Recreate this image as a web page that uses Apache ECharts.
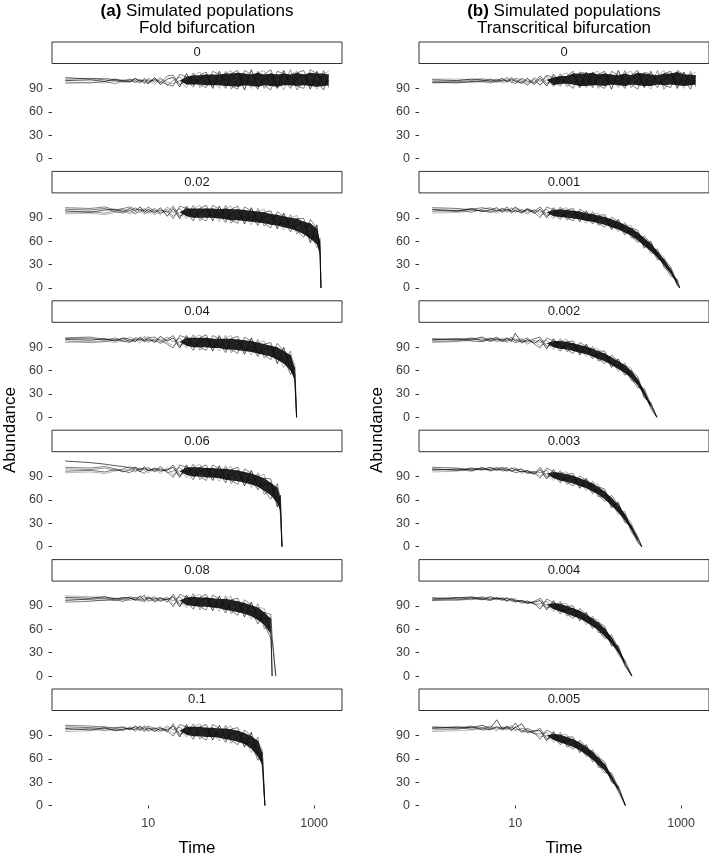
<!DOCTYPE html>
<html>
<head>
<meta charset="utf-8">
<script src="https://cdn.jsdelivr.net/npm/echarts@6/dist/echarts.min.js"></script>
<style>
  html, body { margin: 0; padding: 0; background: #fff; }
  #chart { width: 709px; height: 858px; }
</style>
</head>
<body>
<div id="chart"></div>
<script>
// time steps shared by all panels (each panel stops at its own collapse)
const TIME = [1, 2, 3, 4, 5, 6, 7, 8, 9, 10, 12, 14, 17, 20, 24, 29, 35, 42, 50, 60,
  72, 86, 100, 120, 145, 175, 210, 250, 300, 360, 430, 520, 620, 750, 900, 1080, 1300, 1500];
const X_TICKS = [10, 1000];
const Y_TICKS = [0, 30, 60, 90];

const foldLabels = ['0', '0.02', '0.04', '0.06', '0.08', '0.1'];
const transLabels = ['0', '0.001', '0.002', '0.003', '0.004', '0.005'];
// how many TIME steps each panel keeps, then the last steps before extinction
const foldCut = [38, 36, 32, 30, 29, 27];
const foldTail = [[], [1180, 1208], [585, 615], [392, 410], [312, 345], [238, 255]];
const transCut = [38, 35, 31, 29, 27, 26];
const transTail = [[], [960], [510], [335], [255], [213]];

// (a) fold bifurcation, 5 simulated runs per panel
const fold0 = [
  [100,101,99,102,100,98,103,99,101,97,104,95,102, 104,92,109,95,101,108,90,112,93,101,110,88,114,92,100,109,90,113,94,102,108,89,112,93,100],
  [98,97,99,96,100,102,97,101,96,103,98,104,94, 100,105,95,110,91,101,108,94,112,89,100,109,93,112,90,102,108,94,114,88,100,110,92,113,91],
  [102,103,101,100,98,99,100,97,103,99,101,97,106, 107,95,100,92,107,111,94,101,90,109,113,94,100,89,108,114,92,102,90,110,113,93,100,88,108],
  [96,98,97,99,101,100,98,102,99,101,95,102,98, 96,100,91,107,111,94,101,90,109,113,92,102,90,110,113,93,100,88,108,112,94,101,89,109,112],
  [104,102,103,101,99,101,102,100,98,96,102,99,95, 93,108,105,101,95,91,112,108,101,93,89,113,108,102,94,88,112,109,100,93,90,114,109,101,94]
];
const fold002 = [
  [99,97,100,101,98,102,99,104,97,101,96,103,92, 102,89,105,90,96,102,86,105,88,94,101,82,103,84,90,95,76,96,76,81,85,58,81,44,0],
  [97,98,96,99,101,97,103,98,102,96,100,94,104, 97,102,92,106,86,96,102,89,106,83,94,100,85,102,79,88,94,78,94,69,77,83,56,64,0],
  [101,100,102,98,96,100,95,101,99,104,98,100,97, 105,92,97,86,102,106,90,95,84,101,105,86,92,80,97,99,80,85,72,89,89,63,66,40,0],
  [95,96,94,97,99,95,98,96,101,99,94,98,101, 92,97,89,102,106,90,96,85,102,105,87,93,81,98,101,81,87,74,90,93,69,73,51,60,0],
  [103,102,104,100,102,104,101,100,95,98,102,96,99, 89,105,102,96,90,86,106,101,95,87,83,104,99,91,83,77,98,92,83,73,65,88,76,52,0]
];
const fold004 = [
  [100,99,101,98,102,100,97,103,99,101,96,104,98, 102,89,105,90,96,102,85,105,87,94,100,81,102,82,87,92,69,90,60,56,0],
  [98,96,97,100,97,99,101,98,104,96,101,97,103, 97,102,92,106,86,96,101,89,105,83,93,99,84,100,76,85,90,69,85,44,0],
  [102,103,100,99,101,97,99,100,97,99,99,95,100, 105,92,97,86,102,106,89,95,83,101,104,85,91,78,94,96,74,77,55,64,0],
  [96,97,98,96,99,103,100,95,101,104,97,101,96, 92,97,89,102,106,90,95,85,101,105,86,92,80,96,98,78,82,64,80,68,0],
  [101,101,99,102,98,96,102,101,98,102,103,99,94, 89,105,102,96,90,86,105,101,94,87,82,103,98,89,80,74,95,85,70,48,0]
];
const fold006 = [
  [110,108,106,104,103,101,102,99,101,98,100,97,99, 102,89,105,90,96,101,85,104,86,92,98,78,98,77,80,82,51,66,0],
  [100,99,101,98,100,103,97,101,99,102,96,101,95, 97,102,92,106,86,95,101,88,104,81,91,96,80,95,67,74,76,46,0],
  [97,98,96,99,97,95,100,96,103,97,101,99,98, 105,92,97,86,102,105,89,94,82,99,102,82,87,73,88,87,56,54,0],
  [95,96,94,97,99,98,96,100,98,95,99,94,102, 92,97,89,102,106,89,95,84,100,103,84,89,76,91,93,66,66,42,0],
  [102,101,103,100,96,99,101,97,94,100,97,103,96, 89,105,102,96,90,85,105,100,93,85,80,100,94,84,72,61,81,62,0]
];
const fold008 = [
  [101,100,102,99,101,100,98,103,97,101,96,100,98, 102,89,104,90,95,101,84,103,85,91,96,76,95,72,74,74,0,null],
  [99,98,97,100,98,102,100,97,101,99,102,97,100, 97,102,91,106,85,95,100,87,103,80,89,94,77,93,61,64,0,null],
  [97,99,100,98,96,99,101,100,104,96,99,101,95, 105,92,96,86,101,105,88,93,81,98,100,80,84,67,82,79,52,0],
  [103,102,101,100,99,97,99,96,98,103,95,98,102, 92,97,88,102,105,89,94,83,99,102,82,87,73,88,87,54,0,null],
  [95,96,98,97,100,101,97,99,95,100,100,96,99, 89,105,101,96,89,85,104,99,92,84,78,98,91,80,66,49,46,0]
];
const fold01 = [
  [99,97,100,96,98,99,97,102,97,100,95,99,97, 102,88,104,89,95,100,84,103,85,91,96,75,94,63,60,0],
  [97,99,96,98,97,101,99,96,103,95,100,96,102, 97,101,91,105,85,94,100,87,103,80,89,93,73,88,48,0],
  [101,100,99,100,101,97,102,99,95,99,98,101,94, 105,91,96,85,101,104,88,93,81,98,100,79,81,58,68,0],
  [95,96,98,97,96,100,95,101,99,97,97,94,100, 92,96,88,101,105,88,94,83,99,102,82,86,68,83,72,0],
  [103,102,101,99,100,98,101,97,100,102,99,97,96, 89,104,101,95,89,84,104,99,92,84,78,97,89,73,52,0]
];

// (b) transcritical bifurcation, 5 simulated runs per panel
const trans0 = [
  [101,100,102,101,99,100,103,98,102,99,97,103,95, 103,93,108,96,100,109,91,111,94,102,109,89,113,93,101,110,91,112,95,101,109,90,111,94,101],
  [99,99,100,98,101,102,99,101,97,103,101,96,104, 99,106,94,109,92,100,109,93,111,90,101,108,94,113,91,101,109,93,113,89,101,111,93,112,92],
  [98,97,99,100,102,98,100,104,99,96,103,99,97, 106,96,101,93,106,112,93,102,91,108,112,95,101,90,107,113,93,101,91,109,112,94,101,89,107],
  [102,102,101,103,100,101,97,99,101,100,96,101,99, 95,101,92,106,110,95,100,91,110,112,93,101,91,109,112,94,101,89,107,113,95,100,90,108,111],
  [97,98,98,99,97,99,101,100,104,101,99,94,102, 94,107,104,102,96,90,111,109,100,94,90,112,107,101,95,89,111,108,101,94,91,113,108,100,95]
];
const trans001 = [
  [101,99,102,98,100,103,97,101,99,104,98,101,96, 101,90,103,91,95,99,85,99,85,88,91,75,88,71,72,71,51,60,39,33,24,3,0],
  [98,100,97,101,103,99,102,98,103,97,101,97,100, 97,101,92,104,87,94,98,86,98,80,86,88,75,84,64,66,64,47,50,26,21,9,0],
  [103,102,100,99,97,100,99,104,96,100,96,102,98, 104,93,96,88,100,102,88,91,82,93,94,78,80,68,77,74,54,52,36,37,27,5,0],
  [96,97,99,100,98,96,100,97,101,102,99,95,101, 93,97,89,101,103,89,93,83,95,96,81,83,72,81,80,61,59,44,47,40,18,7,0],
  [100,98,101,103,101,98,102,100,98,99,97,100,97, 90,104,100,96,90,86,101,96,90,83,78,91,85,76,67,58,67,57,43,29,15,11,0]
];
const trans002 = [
  [99,101,100,103,98,101,99,102,97,108,96,100,95, 100,88,101,88,92,95,80,94,78,80,82,64,75,57,55,49,25,19,0],
  [97,98,101,99,102,97,100,96,101,99,101,94,99, 96,99,90,101,84,90,93,81,91,72,77,77,62,70,47,45,34,13,0],
  [101,100,98,97,100,103,98,101,99,96,98,97,101, 103,91,94,85,97,98,83,86,75,85,85,67,67,54,60,52,28,15,0],
  [96,97,99,101,97,99,102,98,100,101,95,99,97, 92,95,87,98,100,85,88,78,88,88,72,72,59,67,63,41,31,11,0],
  [100,99,102,98,101,100,97,99,103,98,99,102,94, 89,102,98,93,87,82,96,91,83,75,69,80,72,62,50,38,37,17,0]
];
const trans003 = [
  [100,98,101,99,102,98,100,97,101,99,96,98,93, 99,87,99,85,88,91,75,88,71,72,71,50,57,34,25,11,0],
  [98,100,99,101,97,100,99,102,96,100,99,95,97, 95,98,88,98,80,86,88,75,84,64,66,63,44,45,19,9,0],
  [102,101,98,100,99,101,97,99,98,95,97,96,94, 102,90,92,82,93,94,78,80,68,77,74,53,49,31,28,13,0],
  [96,97,100,98,100,102,101,98,100,102,94,97,96, 91,94,85,95,96,81,83,72,81,80,61,58,41,42,31,7,0],
  [99,99,97,102,98,99,102,100,97,98,100,94,95, 88,101,96,90,83,78,91,85,76,67,58,66,54,38,22,5,0]
];
const trans004 = [
  [99,101,100,98,102,99,100,97,99,96,97,94,95, 97,85,97,83,85,87,71,82,64,64,61,39,39,15,0],
  [101,99,98,101,99,100,97,100,96,98,94,97,92, 93,96,86,96,77,82,84,69,77,56,56,50,30,21,0],
  [97,98,101,100,98,101,99,96,100,97,96,93,96, 100,88,90,80,90,90,74,74,61,69,64,42,33,13,0],
  [100,97,99,102,100,98,101,99,98,100,93,96,94, 89,92,83,93,93,77,79,66,74,72,51,46,27,19,0],
  [98,100,102,99,97,100,98,101,97,95,97,95,93, 86,99,94,88,80,74,87,79,69,59,48,53,36,17,0]
];
const trans005 = [
  [99,101,100,103,99,110,98,101,97,100,105,94,96, 96,83,95,81,83,85,68,78,59,57,53,30,25,0],
  [97,98,101,99,102,98,100,97,103,96,99,97,92, 92,94,84,94,75,80,81,65,72,49,49,39,19,0],
  [101,100,98,100,97,101,99,102,99,106,95,99,95, 99,86,88,78,88,88,71,70,56,62,56,33,21,0],
  [95,96,97,98,100,96,101,99,100,98,97,93,94, 88,90,81,91,91,75,76,62,69,65,45,36,17,0],
  [100,99,102,97,98,101,97,100,96,101,94,96,93, 85,97,92,86,78,72,84,75,64,52,42,42,23,0]
];

const foldRuns = [fold0, fold002, fold004, fold006, fold008, fold01];
const transRuns = [trans0, trans001, trans002, trans003, trans004, trans005];

// ---- layout ----
const FONT = '"Liberation Sans", Arial, sans-serif';
const COL_LEFT = [52, 419];
const PANEL_W = 290, PANEL_H = 99.5, STRIP_H = 21.5;
const ROW0 = 63.5, ROW_STEP = 129.4;
const X_MIN = 0.693, X_MAX = 2168;
const Y_MIN = -5.8, Y_MAX = 122;
const BAND_FROM = 14; // runs start to overlap into a solid band here
const RUN_COLORS = ['rgba(0,0,0,0.75)', 'rgba(0,0,0,0.45)', 'rgba(0,0,0,0.6)', 'rgba(0,0,0,0.32)', 'rgba(0,0,0,0.55)'];

const panels = [];
foldLabels.forEach((lab, k) => panels.push({ col: 0, row: k, lab, times: TIME.slice(0, foldCut[k]).concat(foldTail[k]), runs: foldRuns[k] }));
transLabels.forEach((lab, k) => panels.push({ col: 1, row: k, lab, times: TIME.slice(0, transCut[k]).concat(transTail[k]), runs: transRuns[k] }));

const grid = [], xAxis = [], yAxis = [], series = [], graphic = [];

panels.forEach((p, i) => {
  const left = COL_LEFT[p.col];
  const top = ROW0 + p.row * ROW_STEP;
  const bottom = p.row === 5;
  grid.push({ left: left, top: top, width: PANEL_W, height: PANEL_H });
  xAxis.push({
    type: 'log', logBase: 10, gridIndex: i, min: X_MIN, max: X_MAX,
    axisLine: { show: false }, splitLine: { show: false },
    axisTick: { show: bottom, customValues: X_TICKS, length: 3, lineStyle: { color: '#333' } },
    axisLabel: { show: bottom, customValues: X_TICKS, margin: 7, fontSize: 12.5, color: '#3a3a3a', fontFamily: FONT,
      formatter: v => String(Math.round(v)) },
    name: bottom ? 'Time' : '', nameLocation: 'middle', nameGap: 30,
    nameTextStyle: { fontSize: 17, color: '#000', fontFamily: FONT }
  });
  yAxis.push({
    type: 'value', gridIndex: i, min: Y_MIN, max: Y_MAX,
    axisLine: { show: false }, splitLine: { show: false },
    axisTick: { show: true, customValues: Y_TICKS, length: 3.5, lineStyle: { color: '#333' } },
    axisLabel: { customValues: Y_TICKS, margin: 9, fontSize: 12.5, color: '#3a3a3a', fontFamily: FONT }
  });

  // individual runs
  p.runs.forEach((run, r) => {
    series.push({
      type: 'line', xAxisIndex: i, yAxisIndex: i, symbol: 'none', silent: true, z: 2,
      lineStyle: { width: 0.9, color: RUN_COLORS[r] },
      data: p.times.map((t, k) => [t, run[k]])
    });
  });

  // dense core: 2nd lowest to 2nd highest run, while every run is still alive
  const lo = [], hi = [];
  for (let k = BAND_FROM; k < p.times.length; k++) {
    const v = p.runs.map(run => run[k]);
    if (v.some(x => x == null || x <= 0)) break;
    v.sort((a, b) => a - b);
    const first = k === BAND_FROM; // band opens from the median
    lo.push([p.times[k], first ? v[2] : v[1]]);
    hi.push([p.times[k], first ? v[2] : v[3]]);
  }
  series.push({
    type: 'custom', xAxisIndex: i, yAxisIndex: i, silent: true, z: 3,
    data: [hi[0]],
    renderItem: (params, api) => {
      const pts = hi.map(d => api.coord(d)).concat(lo.slice().reverse().map(d => api.coord(d)));
      return { type: 'polygon', shape: { points: pts }, style: { fill: 'rgba(12,12,12,0.9)' } };
    }
  });

  // facet strip
  graphic.push({
    type: 'rect', silent: true,
    shape: { x: left, y: top - STRIP_H, width: PANEL_W, height: STRIP_H },
    style: { fill: '#fff', stroke: '#333', lineWidth: 1 }
  });
  graphic.push({
    type: 'text', silent: true, x: left + PANEL_W / 2, y: top - STRIP_H / 2,
    style: { text: p.lab, fill: '#1a1a1a', font: '13px ' + FONT, textAlign: 'center', textVerticalAlign: 'middle' }
  });
});

// column titles and y labels
[['(a)', 'Fold bifurcation'], ['(b)', 'Transcritical bifurcation']].forEach((tt, c) => {
  const cx = COL_LEFT[c] + PANEL_W / 2;
  graphic.push({
    type: 'text', silent: true, x: cx, y: 11,
    style: { text: '{b|' + tt[0] + '} Simulated populations', rich: { b: { fontWeight: 'bold', fontSize: 17, fontFamily: FONT } },
      fill: '#000', font: '17px ' + FONT, textAlign: 'center', textVerticalAlign: 'middle' }
  });
  graphic.push({
    type: 'text', silent: true, x: cx, y: 28,
    style: { text: tt[1], fill: '#000', font: '17px ' + FONT, textAlign: 'center', textVerticalAlign: 'middle' }
  });
  graphic.push({
    type: 'text', silent: true, x: COL_LEFT[c] - 42, y: 430, rotation: Math.PI / 2,
    style: { text: 'Abundance', fill: '#000', font: '17px ' + FONT, textAlign: 'center', textVerticalAlign: 'middle' }
  });
});

const chart = echarts.init(document.getElementById('chart'), null, { renderer: 'canvas' });
chart.setOption({
  backgroundColor: '#fff',
  animation: false,
  grid: grid,
  xAxis: xAxis,
  yAxis: yAxis,
  series: series,
  graphic: graphic
});
</script>
</body>
</html>
